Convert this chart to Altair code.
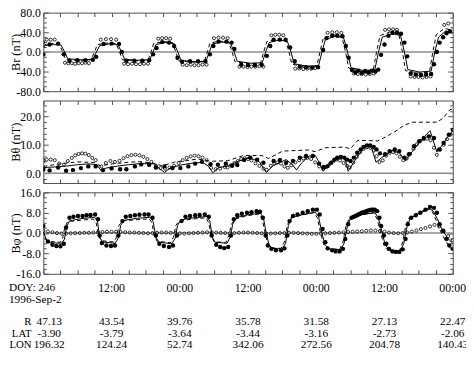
import altair as alt
import pandas as pd

FONT = "Liberation Serif"
FRAME = "#4d4d4d"
W = 417
H1, H2, H3, HT = 80, 84, 83, 68.5

x_ticks = [0, 3, 6, 9, 12, 15, 18, 21, 24, 27, 30, 33, 36, 39, 42, 45, 48, 51, 54, 57, 60, 63, 66, 69, 72]

# ---------------- Panel 1 : Br ----------------
br_solid_h = [0, 0.4, 1.8, 3.1, 3.75, 4.3, 6.5, 8.7, 9.35, 9.9, 11.5, 13.1, 13.75, 14.3, 16.5, 18.7, 19.3, 19.8, 21.4, 23.0,
              23.65, 24.2, 26.5, 28.6, 29.2, 29.7, 31.3, 32.9, 33.55, 34.1, 36.4, 38.5, 39.1, 39.7, 41.4, 42.9, 43.55, 44.1,
              46.3, 48.4, 49.0, 49.6, 51.3, 52.8, 53.5, 54.1, 56.3, 58.3, 58.95, 59.6, 61.3, 62.8, 63.5, 64.1, 66.2, 68.2,
              68.85, 69.5, 70.8, 72.0]
br_solid_v = [10, 13, 15, 14, 0, -14, -16, -15, 0, 13, 16, 15, 0, -15, -17, -16, 0, 15, 19, 17, 0, -17, -20, -19, 0, 16,
              20, 18, 0, -19, -23, -22, 0, 19, 24, 22, 0, -24, -29, -28, 0, 25, 32, 29, 0, -32, -38, -36, 0, 30, 37, 34,
              0, -36, -41, -39, 0, 30, 43, 38]
br_dash_h = [0, 0.3, 1.5, 2.8, 3.4, 3.9, 6.2, 8.4, 9.0, 9.5, 11.2, 12.8, 13.4, 13.9, 16.2, 18.4, 18.95, 19.4, 21.1, 22.7,
             23.3, 23.8, 26.2, 28.3, 28.85, 29.3, 31.0, 32.6, 33.2, 33.7, 36.1, 38.2, 38.75, 39.3, 41.1, 42.6, 43.2, 43.7,
             46.0, 48.1, 48.65, 49.2, 51.0, 52.5, 53.15, 53.7, 56.0, 58.0, 58.6, 59.2, 61.0, 62.5, 63.15, 63.7, 65.9, 67.9,
             68.5, 69.1, 70.5, 72.0]
br_dash_v = [12, 15, 17, 16, 0, -15, -17, -16, 0, 15, 18, 17, 0, -16, -18, -17, 0, 17, 21, 19, 0, -18, -21, -20, 0, 18,
             22, 20, 0, -20, -24, -23, 0, 21, 26, 24, 0, -25, -30, -29, 0, 27, 35, 31, 0, -33, -40, -38, 0, 33, 41, 37,
             0, -38, -43, -41, 0, 35, 48, 44]
br_fill_h = [0.0, 1.1, 2.6, 3.6, 4.6, 6.0, 7.4, 8.7, 9.3, 10.6, 12.0, 13.3, 13.8, 14.6, 16.0, 17.4, 18.6, 19.3, 19.9, 20.9,
             22.1, 23.0, 23.6, 24.4, 25.8, 27.2, 28.5, 29.3, 29.9, 30.8, 32.2, 33.1, 33.6, 34.8, 36.0, 37.2, 38.4, 39.3,
             39.9, 40.5, 41.6, 42.6, 43.4, 44.2, 45.1, 46.2, 47.3, 48.3, 49.2, 49.8, 50.8, 51.7, 52.6, 53.2, 53.7, 54.3,
             54.9, 55.4, 56.0, 56.6, 57.2, 57.8, 58.4, 58.9, 59.4, 60.0, 60.7, 61.4, 62.2, 62.9, 63.5, 64.0, 64.6, 65.5,
             66.4, 67.3, 68.2, 68.7, 69.2, 69.7, 70.3, 70.9, 71.5]
br_fill_v = [-5, 15, 17, -5, -18, -17, -17, -16, -10, 16, 17, 16, 0, -18, -18, -18, -17, -5, 8, 20, 19, 12, -12, -20,
             -19, -19, -19, -5, 12, 21, 21, 19, 6, -26, -27, -27, -26, -8, 12, 25, 25, 25, 9, -19, -30, -31, -32, -31, 4,
             28, 33, 33, 32, 12, -12, -37, -42, -38, -43, -39, -42, -38, -40, -36, -6, 15, 33, 39, 39, 37, 19, -9, -44,
             -46, -47, -46, -45, -25, 0, 19, 30, 38, 42]
br_open_h = [0.0, 0.6, 1.3, 2.0, 3.8, 4.4, 5.0, 5.6, 6.2, 6.8, 7.4, 8.0, 10.1, 11.0, 11.9, 12.8, 14.2, 14.9, 15.6, 16.3,
             17.0, 17.7, 18.4, 20.2, 20.9, 21.6, 22.3, 24.5, 25.2, 25.9, 26.6, 27.3, 28.0, 28.7, 30.0, 30.8, 31.6, 32.4,
             34.5, 35.2, 35.9, 36.6, 37.3, 38.0, 38.7, 40.1, 40.8, 41.5, 42.2, 44.3, 45.0, 45.7, 46.4, 47.1, 47.8, 50.0,
             50.8, 51.6, 52.4, 54.6, 55.3, 56.0, 56.7, 57.4, 58.1, 60.1, 60.8, 61.5, 62.2, 64.6, 65.3, 66.0, 66.7, 67.4,
             68.1, 70.5, 71.2]
br_open_v = [20, 25, 25, 25, -22, -23, -23, -24, -23, -23, -22, -23, 25, 26, 26, 25, -24, -25, -24, -25, -25, -24, -24,
             27, 28, 28, 27, -26, -27, -26, -27, -27, -26, -26, 28, 29, 29, 28, -30, -30, -31, -30, -30, -29, -30, 34,
             35, 35, 34, -34, -34, -35, -34, -34, -33, 39, 40, 40, 39, -44, -45, -45, -46, -45, -44, 45, 46, 46, 45,
             -50, -51, -51, -52, -51, -50, 55, 58]

# ---------------- Panel 2 : Btheta ----------------
bt_solid_h = [0, 2, 4, 6, 8, 9.4, 10.2, 11, 13, 15, 17, 19.5, 20.5, 21.3, 22.3, 24, 26, 28, 29, 29.8, 30.8, 32.5, 34.5,
              36.4, 38, 39.2, 40.5, 42.7, 43.8, 44.5, 45.5, 46.7, 47.8, 48.6, 49.2, 50.5, 52.6, 53.2, 53.6, 54.8, 56.0,
              57.1, 57.8, 58.5, 59.5, 61.3, 62.6, 63.7, 65.0, 66.5, 68.0, 68.5, 69.2, 70.0, 71.0, 72.0]
bt_solid_v = [2.0, 2.2, 2.5, 3.0, 3.3, 3.0, 0.8, 1.8, 2.5, 3.0, 3.4, 3.3, 1.5, 0.3, 1.8, 2.8, 3.5, 3.8, 2.5, 0.2, 2.0,
              2.6, 4.4, 5.4, 4.0, 0.3, 2.8, 4.8, 3.0, 1.2, 3.8, 6.0, 6.3, 3.5, 0.7, 3.5, 6.0, 4.0, 0.7, 4.5, 8.0, 10.2,
              8.5, 3.9, 5.5, 8.0, 7.2, 4.4, 8.0, 11.8, 15.0, 12.0, 7.5, 9.5, 12.5, 14.8]
bt_dash_h = [0, 2.6, 6.0, 8.9, 10.0, 11.8, 14.6, 16.9, 19.2, 20.9, 23.2, 25.0, 27.2, 29.5, 32.4, 35.3, 38.5, 39.6, 42.1,
             46.7, 47.8, 49.6, 53.0, 54.0, 55.3, 58.8, 60.2, 61.7, 63.5, 65.0, 69.3, 70.3, 71.5, 72.0]
bt_dash_v = [2.4, 3.2, 4.0, 3.8, 2.6, 3.2, 3.8, 4.1, 3.6, 2.6, 4.0, 4.4, 5.0, 4.2, 4.4, 6.3, 6.2, 5.2, 7.8, 8.2, 7.6,
             9.0, 9.2, 8.6, 11.6, 11.4, 12.8, 14.5, 17.0, 18.0, 18.0, 19.5, 22.4, 22.7]
bt_fill_h = [0, 1.1, 2.6, 4.0, 5.2, 6.6, 7.9, 9.2, 10.5, 12.0, 13.5, 14.6, 16.1, 17.2, 18.6, 19.8, 21.3, 22.7, 24.1,
             25.5, 26.7, 27.9, 29.4, 30.7, 32.1, 33.2, 34.1, 35.3, 36.4, 37.6, 38.7, 40.5, 41.6, 42.7, 43.9, 45.1, 46.2,
             47.4, 48.5, 49.3, 50.0, 50.6, 51.2, 51.7, 52.3, 52.9, 53.4, 54.0, 54.6, 55.2, 55.8, 56.3, 56.9, 57.5, 58.1,
             58.6, 59.2, 60.1, 60.9, 61.8, 62.6, 63.5, 64.3, 65.2, 66.1, 66.9, 67.8, 68.7, 69.6, 70.4, 71.3, 72.0]
bt_fill_v = [1.3, 1.0, 2.0, 0.9, 1.1, 1.8, 2.4, 2.4, 1.1, 1.7, 1.4, 1.4, 2.4, 3.1, 3.0, 2.0, 2.4, 1.8, 1.8, 2.4, 3.4,
             4.0, 3.2, 3.0, 3.4, 2.6, 2.9, 4.7, 5.5, 4.8, 3.7, 4.3, 4.7, 3.7, 4.3, 5.5, 6.1, 6.1, 3.4, 2.2, 2.5, 3.7,
             4.8, 5.5, 5.7, 5.5, 4.8, 4.3, 5.5, 7.2, 8.4, 9.3, 9.8, 9.8, 9.3, 8.4, 7.0, 6.7, 7.8, 8.4, 7.8, 5.5, 6.7,
             9.5, 11.3, 12.4, 13.0, 12.4, 8.4, 10.7, 13.6, 15.3]
bt_open_h = [0.0, 0.6, 1.3, 2.0, 2.8, 3.6, 4.3, 5.0, 5.6, 6.2, 6.8, 7.4, 8.0, 8.6, 9.2, 10.2, 11.0, 11.8, 12.6, 13.4,
             14.1, 14.8, 15.5, 16.2, 16.9, 17.6, 18.3, 19.0, 19.8, 20.6, 21.4, 22.2, 23.0, 23.8, 24.5, 25.2, 25.9, 26.6,
             27.3, 28.0, 28.7, 29.5, 30.3, 31.1, 31.9,
             32.4, 33.0, 33.6, 34.2, 34.8, 35.4, 36.0, 36.6, 37.3, 38.0, 38.7, 39.3, 40.0, 40.6, 41.2, 41.8, 42.4, 43.0,
             43.6, 44.3, 45.0, 45.7, 46.4, 47.1, 47.8, 48.5, 49.2, 49.8, 50.4, 51.0, 51.6, 52.2, 52.8, 53.4, 53.9, 54.5,
             55.1, 55.7, 56.3, 56.9, 57.5, 58.1, 58.6, 59.1, 59.7, 60.3, 60.9, 61.5, 62.1, 62.7, 63.3, 63.9, 64.5, 65.1,
             65.7, 66.3, 66.9, 67.5, 68.1, 68.7, 69.2, 69.8, 70.4, 71.0, 71.6]
bt_open_v = [4.5, 4.8, 4.8, 4.6, 3.4, 3.0, 4.3, 5.4, 6.3, 6.8, 7.0, 6.9, 6.4, 5.4, 4.6, 2.4, 3.6, 4.3, 4.0, 4.4, 5.3,
             6.0, 6.4, 6.5, 6.3, 5.8, 5.0, 4.0, 2.6, 1.8, 1.6, 2.0, 2.6, 3.6, 4.6, 5.4, 5.9, 6.2, 6.0, 5.5, 4.6, 1.9,
             1.4, 1.6, 2.2,
             2.0, 2.8, 3.6, 4.3, 5.0, 5.3, 5.0, 4.5, 3.5, 2.6, 1.6, 1.2, 2.6, 3.4, 3.8, 3.4, 2.4, 1.9, 2.8, 3.8, 4.6,
             5.2, 5.4, 5.0, 3.8, 2.4, 1.6, 2.2, 3.3, 4.2, 4.8, 4.5, 3.6, 2.6, 2.0, 3.8, 5.8, 7.4, 8.6, 9.2, 9.0, 8.0,
             6.0, 3.9, 4.5, 6.2, 7.2, 7.5, 7.0, 5.8, 4.6, 5.2, 6.8, 8.6, 10.2, 11.4, 12.0, 12.2, 11.6, 9.0, 6.5, 8.3,
             10.0, 12.0, 13.6]

# ---------------- Panel 3 : Bphi ----------------
bp_solid_h = [0, 0.6, 1.2, 3.2, 3.7, 4.1, 4.6, 6.5, 9.0, 9.5, 9.9, 10.4, 12.6, 13.2, 13.6, 14.2, 16.5, 18.8, 19.3, 19.8,
              20.3, 22.6, 23.2, 23.6, 24.2, 26.5, 28.8, 29.3, 29.7, 30.2, 32.3, 32.9, 33.3, 33.9, 36.0, 38.2, 38.7, 39.2,
              39.7, 40.3, 42.0, 42.6, 43.1, 43.7, 45.5, 47.8, 48.4, 48.9, 49.5, 50.2, 52.3, 52.9, 53.4, 54.0, 56.0, 58.3,
              58.9, 59.5, 60.1, 60.8, 62.8, 63.4, 63.9, 64.5, 66.2, 68.0, 68.6, 69.3, 70.0, 70.8, 71.5, 72.0]
bp_solid_v = [0.5, -3.0, -3.8, -4.0, -2.5, 2.5, 4.8, 5.6, 6.2, 5.0, -1.5, -3.5, -4.0, -2.0, 3.0, 5.0, 5.8, 6.2, 4.5,
              -1.5, -3.6, -4.2, -2.0, 3.0, 5.2, 6.0, 6.5, 4.5, -1.5, -3.6, -4.0, -1.5, 3.5, 6.0, 7.2, 7.8, 6.0, 0.0,
              -4.8, -6.0, -6.3, -4.0, 3.0, 6.2, 7.2, 8.2, 6.5, 1.0, -4.5, -6.2, -6.5, -4.0, 2.0, 5.8, 7.2, 8.0, 6.0, 1.0,
              -4.5, -6.6, -7.0, -4.0, 2.0, 5.8, 7.8, 9.5, 8.5, 5.5, 2.0, -1.0, -3.0, -4.0]
bp_dash_h = [0, 0.4, 1.0, 3.0, 3.4, 3.8, 4.3, 6.5, 8.8, 9.3, 9.7, 10.2, 12.4, 12.9, 13.3, 13.9, 16.3, 18.6, 19.1, 19.5,
             20.0, 22.4, 22.9, 23.3, 23.9, 26.3, 28.6, 29.1, 29.5, 30.0, 32.1, 32.6, 33.1, 33.7, 35.8, 38.0, 38.5, 39.0,
             39.5, 40.1, 41.8, 42.4, 42.9, 43.5, 45.3, 47.6, 48.2, 48.7, 49.3, 50.0, 52.1, 52.7, 53.2, 53.8, 55.8, 58.1,
             58.7, 59.3, 59.9, 60.6, 62.6, 63.2, 63.7, 64.3, 66.0, 67.8, 68.4, 69.1, 69.8, 70.6, 71.3, 72.0]
bp_dash_v = [0.5, -2.5, -3.3, -3.6, -2.0, 2.5, 4.5, 5.0, 5.5, 4.0, -1.0, -3.0, -3.5, -1.5, 3.0, 4.8, 5.2, 5.6, 4.0,
             -1.0, -3.2, -3.8, -1.5, 3.0, 4.8, 5.5, 6.0, 4.0, -1.0, -3.3, -3.8, -1.0, 3.5, 5.5, 6.8, 7.5, 5.5, 0.0,
             -4.6, -5.8, -6.0, -3.5, 3.0, 6.0, 7.0, 8.0, 6.0, 0.5, -4.5, -6.0, -6.5, -3.5, 2.5, 5.8, 7.2, 8.0, 5.5, 0.5,
             -4.8, -6.8, -7.2, -3.5, 2.5, 6.0, 8.0, 9.8, 8.5, 5.0, 1.0, -2.5, -5.0, -6.5]
bp_fill_h = [0, 0.8, 1.6, 2.3, 3.0, 3.6, 4.0, 4.6, 5.3, 6.1, 6.9, 7.6, 8.3, 9.1, 9.6, 9.9, 10.3, 11.1, 11.9, 12.6, 13.2,
             13.9, 14.5, 15.3, 16.1, 16.9, 17.8, 18.5, 19.2, 19.8, 20.4, 21.2, 22.1, 22.8, 23.5, 24.3, 25.0, 25.8, 26.7,
             27.5, 28.4, 29.1, 29.6, 30.4, 31.1, 31.8, 32.5, 33.0, 33.5, 34.1, 34.9, 35.8, 36.6, 37.5, 38.1, 38.6, 39.1,
             39.5, 40.1, 40.9, 41.8, 42.4, 42.9, 43.3, 43.9, 44.7, 45.6, 46.5, 47.4, 48.1, 48.6, 49.1, 49.6, 50.0, 50.8,
             51.4, 52.1, 52.7, 53.1, 53.6, 54.2, 54.6, 54.9, 55.2, 55.4, 55.7, 56.0, 56.3, 56.6, 56.9, 57.2, 57.5, 57.7,
             58.0, 58.3, 58.7, 59.1, 59.4, 59.9, 60.3, 60.8, 61.4, 62.0, 62.6, 63.2, 63.7, 64.1, 64.7, 65.5, 66.3, 67.2,
             68.0, 68.7, 69.2, 69.7, 70.3, 70.9, 71.4, 72.0]
bp_fill_v = [2.8, -3.3, -4.6, -5.1, -5.2, -4.2, 2.2, 6.0, 6.4, 6.7, 6.7, 7.0, 7.1, 7.3, 5.4, -1.0, -3.9, -4.9, -5.1,
             -4.9, -1.0, 4.7, 6.4, 6.7, 7.0, 7.2, 7.3, 7.3, 6.0, -1.0, -4.2, -5.1, -5.5, -4.9, -1.0, 4.7, 6.4, 6.7, 7.0,
             7.1, 7.3, 6.4, -1.0, -4.6, -5.5, -5.9, -5.5, -1.0, 5.4, 7.0, 7.6, 8.0, 8.2, 8.6, 8.4, 6.0, -1.0, -4.9,
             -6.2, -6.8, -6.8, -6.0, -1.0, 4.7, 6.7, 7.3, 8.0, 8.6, 9.2, 9.2, 7.3, 1.6, -3.6, -6.0, -6.8, -7.2, -7.2,
             -6.2, -2.3, 3.5, 6.0, 6.4, 6.7, 7.0, 7.3, 7.6, 8.0, 8.2, 8.4, 8.7, 8.9, 9.1, 9.2, 9.2, 9.2, 8.6, 6.0, 2.8,
             -1.0, -4.2, -6.2, -7.2, -7.4, -7.4, -6.4, -2.3, 3.5, 6.0, 7.0, 8.0, 9.2, 10.3, 9.9, 8.0, 3.5, 0.9, -2.3,
             -4.9, -6.2]
bp_open_h = [0.0, 0.8, 1.6, 2.4, 3.2, 4.0, 4.8, 5.6, 6.4, 7.2, 8.0, 8.8, 9.6, 10.4, 11.2, 12.0, 12.8, 13.6, 14.4, 15.2,
             16.0, 16.8, 17.6, 18.4, 19.2, 20.0, 20.8, 21.6, 22.4, 23.2, 24.0, 24.8, 25.6, 26.4, 27.2, 28.0, 28.8, 29.6,
             30.4, 31.2, 32.0, 32.8, 33.6, 34.4, 35.2, 36.0, 36.8, 37.6, 38.4, 39.2, 40.0, 40.8, 41.6, 42.4, 43.2, 44.0,
             44.8, 45.6, 46.4, 47.2, 48.0, 48.8, 49.6, 50.4, 51.2, 52.0, 52.8, 53.6, 54.4, 55.2, 56.0, 56.8, 57.6, 58.4,
             59.2, 60.0, 60.8, 61.6, 62.4, 63.2, 64.0, 64.8, 65.6, 66.4, 67.2, 68.0, 68.8, 69.6, 70.4, 71.2, 72.0]
bp_open_v = [0.9, 0.6, 0.3, 0.0, -0.2, -0.2, -0.1, 0.0, 0.0, 0.1, 0.1, 0.2, 0.3, 0.4, 0.5, 0.5, 0.5, 0.4, 0.3, 0.2, 0.2,
             0.1, 0.0, -0.1, 0.0, 0.1, 0.2, 0.2, 0.1, 0.0, -0.1, -0.2, -0.1, 0.0, 0.1, 0.2, 0.3, 0.3, 0.2, 0.1, 0.0,
             -0.1, 0.0, 0.1, 0.2, 0.2, 0.1, 0.0, -0.1, -0.2, -0.2, -0.1, 0.0, 0.0, 0.1, 0.1, 0.0, -0.1, -0.2, -0.3,
             -0.3, -0.2, -0.1, 0.0, 0.1, 0.2, 0.3, 0.4, 0.5, 0.6, 0.7, 0.9, 1.0, 1.0, 0.8, 0.5, 0.2, 0.0, -0.1, 0.0,
             0.2, 0.6, 1.0, 1.5, 2.0, 2.6, 3.2, 2.6, 0.8, -1.2, -2.8]

# ---------------- Bottom text table ----------------
time_h = [12, 24, 36, 48, 60, 72]
time_labels = ["12:00", "00:00", "12:00", "00:00", "12:00", "00:00"]
col_h = [12, 24, 36, 48, 60, 72]
first_col = ["47.13", "-3.90", "196.32"]
r_vals = ["43.54", "39.76", "35.78", "31.58", "27.13", "22.47"]
lat_vals = ["-3.79", "-3.64", "-3.44", "-3.16", "-2.73", "-2.06"]
lon_vals = ["124.24", "52.74", "342.06", "272.56", "204.78", "140.43"]
row_names = ["R", "LAT", "LON"]
start_lines = ["DOY: 246", "1996-Sep-2"]


def df(h, v):
    n = min(len(h), len(v))
    return pd.DataFrame({"h": h[:n], "v": v[:n]})


LABEL_EXPR = "datum.value < 0 ? '-' + format(-datum.value, '.1f') : format(datum.value, '.1f')"


def tick_axis(orient, offset, values, size):
    return alt.Axis(orient=orient, offset=offset, values=values, labels=False, domain=False, ticks=True,
                    tickSize=size, tickColor=FRAME, tickWidth=1, grid=False, title=None)


def panel(title, dom, major, minor, H, solid, dash, fill, opn):
    xs = alt.Scale(domain=[0, 72], nice=False, zero=False)
    ys = alt.Scale(domain=dom, nice=False, zero=False)
    zero = alt.Chart(df([0, 72], [0, 0])).mark_line(color="#8c8c8c", strokeWidth=1.5).encode(
        x=alt.X("h:Q", scale=xs, axis=tick_axis("top", -H, x_ticks, 4)),
        y=alt.Y("v:Q", scale=ys, axis=alt.Axis(
            orient="left", values=major, labelExpr=LABEL_EXPR, ticks=False, domain=False, grid=False,
            labelFont=FONT, labelFontSize=12, labelColor="black", labelPadding=3,
            title=title, titleFont=FONT, titleFontSize=12.5, titleFontWeight="normal", titleColor="black",
            titleX=-28.5, titleBaseline="middle")))
    s = alt.Chart(df(*solid)).mark_line(color="black", strokeWidth=1, clip=True).encode(
        x=alt.X("h:Q", scale=xs, axis=tick_axis("bottom", -H, x_ticks, 4)),
        y=alt.Y("v:Q", scale=ys, axis=tick_axis("right", -W, major, 5)))
    d = alt.Chart(df(*dash)).mark_line(color="black", strokeWidth=1, strokeDash=[4, 3], clip=True).encode(
        x=alt.X("h:Q", scale=xs, axis=None),
        y=alt.Y("v:Q", scale=ys, axis=tick_axis("left", -W, major, 5)))
    o = alt.Chart(df(*opn)).mark_point(shape="circle", filled=False, color="black", size=10, strokeWidth=0.8,
                                        opacity=1, clip=True).encode(
        x=alt.X("h:Q", scale=xs, axis=None),
        y=alt.Y("v:Q", scale=ys, axis=tick_axis("right", -W, minor, 3)))
    f = alt.Chart(df(*fill)).mark_circle(color="black", size=20, opacity=1, clip=True).encode(
        x=alt.X("h:Q", scale=xs, axis=None),
        y=alt.Y("v:Q", scale=ys, axis=tick_axis("left", -W, minor, 3)))
    return alt.layer(zero, s, d, o, f).resolve_axis(x="independent", y="independent").properties(width=W, height=H)


p1 = panel("Br (nT)", [-80, 80], [-80, -40, 0, 40, 80],
           [-70, -60, -50, -30, -20, -10, 10, 20, 30, 50, 60, 70], H1,
           (br_solid_h, br_solid_v), (br_dash_h, br_dash_v), (br_fill_h, br_fill_v), (br_open_h, br_open_v))
p2 = panel("Bθ (nT)", [-3.45, 25.65], [0, 10, 20],
           [-2, 2, 4, 6, 8, 12, 14, 16, 18, 22, 24], H2,
           (bt_solid_h, bt_solid_v), (bt_dash_h, bt_dash_v), (bt_fill_h, bt_fill_v), (bt_open_h, bt_open_v))
p3 = panel("Bφ (nT)", [-16, 16], [-16, -8, 0, 8, 16],
           [-14, -12, -10, -6, -4, -2, 2, 4, 6, 10, 12, 14], H3,
           (bp_solid_h, bp_solid_v), (bp_dash_h, bp_dash_v), (bp_fill_h, bp_fill_v), (bp_open_h, bp_open_v))

rows = ["t", "d", "gap", "R", "LAT", "LON"]
xs_t = alt.Scale(domain=[0, 72], nice=False, zero=False)
ys_t = alt.Scale(type="point", domain=rows, padding=0.478)

time_df = pd.DataFrame({"h": time_h, "row": ["t"] * len(time_h), "txt": time_labels})
table_df = pd.DataFrame({
    "h": col_h + col_h + col_h,
    "row": ["R"] * len(col_h) + ["LAT"] * len(col_h) + ["LON"] * len(col_h),
    "txt": r_vals + lat_vals + lon_vals,
})
first_df = pd.DataFrame({"h": [0, 0, 0], "row": row_names, "txt": first_col})
left_df = pd.DataFrame({"row": ["t", "d"], "txt": start_lines})
name_df = pd.DataFrame({"row": row_names, "txt": row_names})

Xt = alt.X("h:Q", scale=xs_t, axis=None)
Yt = alt.Y("row:N", scale=ys_t, axis=None)
t_time = alt.Chart(time_df).mark_text(font=FONT, fontSize=12, color="black", align="center",
                                      baseline="middle").encode(x=Xt, y=Yt, text="txt:N")
t_table = alt.Chart(table_df).mark_text(font=FONT, fontSize=11.5, color="black", align="center",
                                        baseline="middle").encode(x=Xt, y=Yt, text="txt:N")
t_first = alt.Chart(first_df).mark_text(font=FONT, fontSize=11.5, color="black", align="center",
                                        baseline="middle", dx=6).encode(x=Xt, y=Yt, text="txt:N")
t_left = alt.Chart(left_df).mark_text(font=FONT, fontSize=11.5, color="black", align="left",
                                      baseline="middle").encode(x=alt.value(-35), y=Yt, text="txt:N")
t_names = alt.Chart(name_df).mark_text(font=FONT, fontSize=11, color="black", align="right",
                                       baseline="middle").encode(x=alt.value(-12), y=Yt, text="txt:N")
txt = alt.layer(t_time, t_table, t_first, t_left, t_names).properties(
    width=W, height=HT, view=alt.ViewBackground(stroke="transparent"))

chart = alt.vconcat(p1, p2, p3, txt, spacing=9.5, bounds="flush").properties(
    padding={"left": 0, "top": -5.5, "right": -3.5, "bottom": 2},
    background="white",
).configure_view(stroke=FRAME, strokeWidth=1)

chart.save("out.html", embed_options={"renderer": "svg", "actions": False})
